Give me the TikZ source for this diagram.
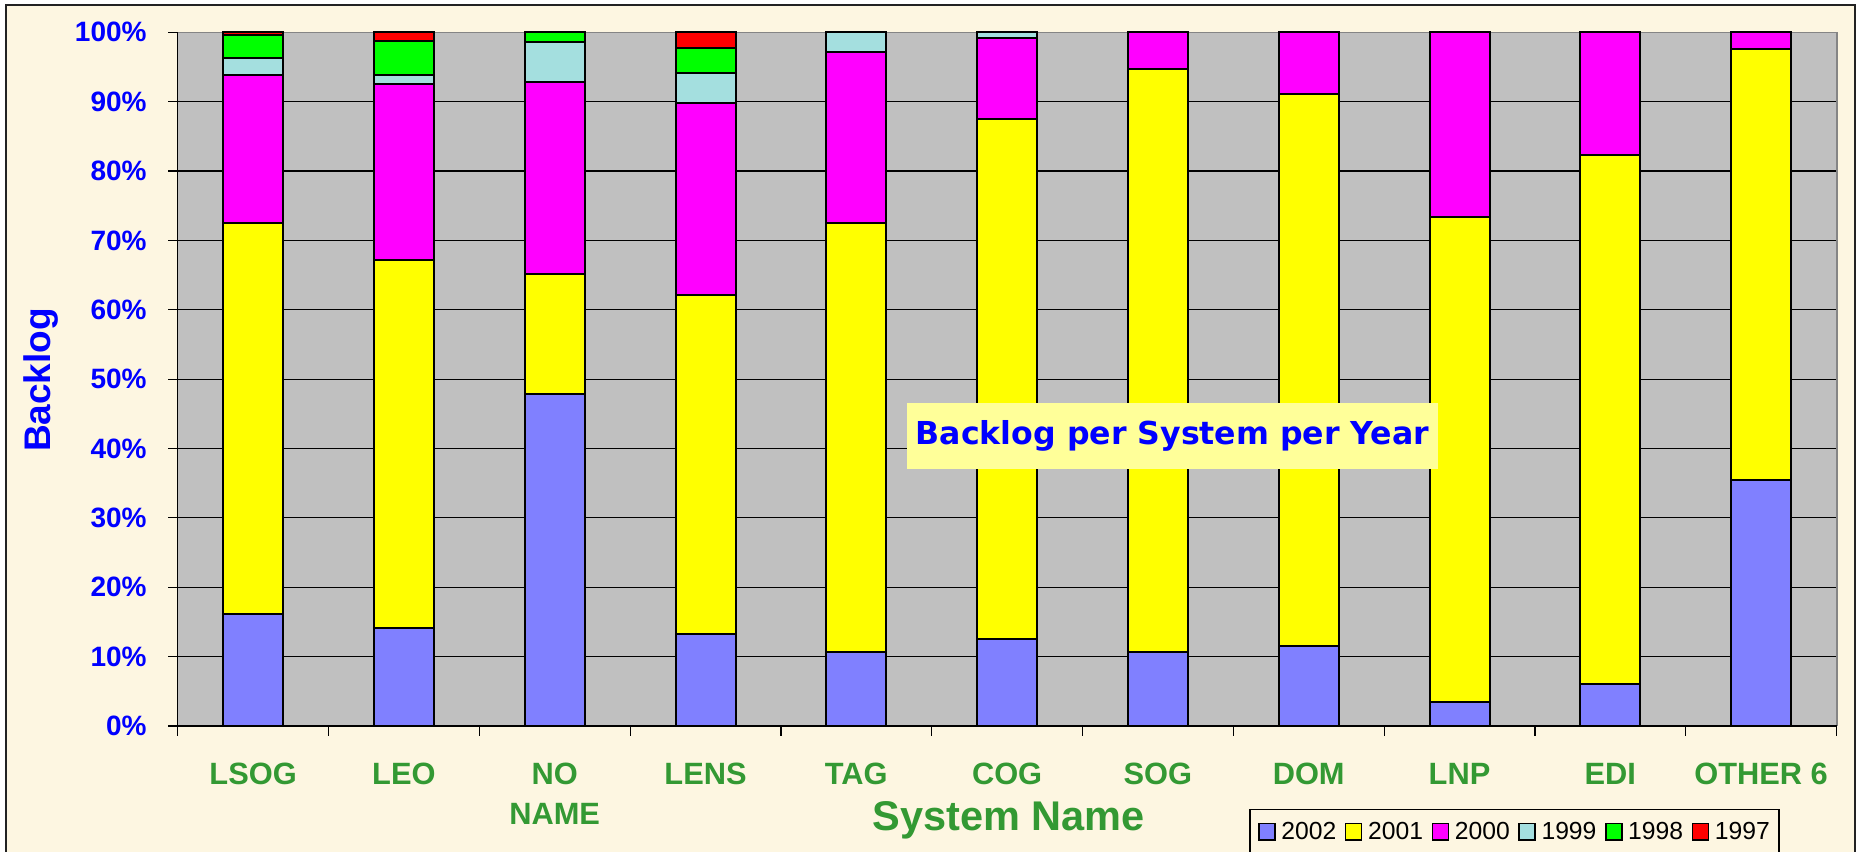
\documentclass[tikz,border=0pt]{standalone}
\usepackage{fontspec}
\setmainfont{Liberation Sans}
\newfontfamily\titlefont{DejaVu Sans}
\definecolor{paper}{HTML}{FDF6E1}
\definecolor{framegray}{HTML}{222222}
\definecolor{plotgray}{HTML}{C0C0C0}
\definecolor{plotedge}{HTML}{858585}
\definecolor{c2002}{HTML}{8080FF}
\definecolor{c2001}{HTML}{FFFF00}
\definecolor{c2000}{HTML}{FF00FF}
\definecolor{c1999}{HTML}{A4DFDF}
\definecolor{c1998}{HTML}{00FF00}
\definecolor{c1997}{HTML}{FF0000}
\definecolor{axisblue}{HTML}{0000FF}
\definecolor{catgreen}{HTML}{339933}
\definecolor{titlefill}{HTML}{FFFF99}

\tikzset{
  gridline/.style={black, line width=0.6pt},
  tickline/.style={black, line width=0.6pt},
  barseg/.style={draw=black, line width=1pt},
  ylabel/.style={anchor=east, inner sep=0pt, text=axisblue,
    font=\bfseries\fontsize{14}{16}\selectfont},
  catlabel/.style={anchor=base, inner sep=0pt, text=catgreen, align=center,
    font=\bfseries\fontsize{15.4}{20}\selectfont},
  axistitle/.style={anchor=base, inner sep=0pt, font=\bfseries},
  legsquare/.style={draw=black, line width=0.7pt},
  legtext/.style={anchor=base west, inner sep=0pt,
    font=\fontsize{12.35}{14}\selectfont},
}

\begin{document}
\begin{tikzpicture}[x=0.5pt, y=-0.5pt]
\useasboundingbox (0,0) rectangle (1857,851);
\begin{scope}
  \clip (0,0) rectangle (1857,851);
  \fill[white] (0,0) rectangle (1857,851);
  % chart frame (runs past the lower edge)
  \draw[fill=paper, draw=framegray, line width=1pt] (6,5) rectangle (1855,880);

  % plot area and gridlines
  \fill[plotgray] (177.7,32.3) rectangle (1836.7,726);
  \foreach \p in {10,20,...,100}
    \draw[gridline] (177.7,{726-6.937*\p}) -- (1836.7,{726-6.937*\p});
  \draw[plotedge, line width=0.8pt] (177.7,32.3) -- (1836.7,32.3) -- (1836.7,726);

  % value axis with ticks and labels
  \draw[tickline] (177.7,32.3) -- (177.7,726) -- (1836.7,726);
  \foreach \p in {0,10,...,100} {
    \draw[tickline] (168,{726-6.937*\p}) -- (177.7,{726-6.937*\p});
    \node[ylabel] (ylab\p) at (147,{726-6.937*\p}) {\p\%};
  }
  % category ticks
  \foreach \k in {0,...,11}
    \draw[tickline] ({177.7+150.8*\k},726) -- ({177.7+150.8*\k},736);

  % stacked bars: index / lower % / upper % / colour
  \foreach \k/\lo/\hi/\col in {
    0/0/16.2/c2002, 0/16.2/72.5/c2001, 0/72.5/93.8/c2000, 0/93.8/96.3/c1999, 0/96.3/99.6/c1998, 0/99.6/100/c1997,
    1/0/14.2/c2002, 1/14.2/67.2/c2001, 1/67.2/92.5/c2000, 1/92.5/93.9/c1999, 1/93.9/98.8/c1998, 1/98.8/100/c1997,
    2/0/47.8/c2002, 2/47.8/65.2/c2001, 2/65.2/92.8/c2000, 2/92.8/98.6/c1999, 2/98.6/100/c1998,
    3/0/13.3/c2002, 3/13.3/62.1/c2001, 3/62.1/89.8/c2000, 3/89.8/94.2/c1999, 3/94.2/97.7/c1998, 3/97.7/100/c1997,
    4/0/10.6/c2002, 4/10.6/72.5/c2001, 4/72.5/97.2/c2000, 4/97.2/100/c1999,
    5/0/12.6/c2002, 5/12.6/87.5/c2001, 5/87.5/99.2/c2000, 5/99.2/100/c1999,
    6/0/10.6/c2002, 6/10.6/94.7/c2001, 6/94.7/100/c2000,
    7/0/11.6/c2002, 7/11.6/91.1/c2001, 7/91.1/100/c2000,
    8/0/3.4/c2002, 8/3.4/73.4/c2001, 8/73.4/100/c2000,
    9/0/6.0/c2002, 9/6.0/82.3/c2001, 9/82.3/100/c2000,
    10/0/35.5/c2002, 10/35.5/97.6/c2001, 10/97.6/100/c2000}
    \draw[barseg, fill=\col] ({177.7+150.8*(\k+0.5)-30},{726-6.937*\lo})
      rectangle ({177.7+150.8*(\k+0.5)+30},{726-6.937*\hi});

  % category names (base = baseline of the last line)
  \foreach \k/\yb/\name/\txt in {0/784/lsog/LSOG, 1/784/leo/LEO, 2/824/noname/{NO\\NAME},
      3/784/lens/LENS, 4/784/tag/TAG, 5/784/cog/COG, 6/784/sog/SOG, 7/784/dom/DOM,
      8/784/lnp/LNP, 9/784/edi/EDI, 10/784/other/OTHER 6}
    \node[catlabel] (cat-\name) at ({177.7+150.8*(\k+0.5)},\yb) {\txt};

  % axis titles
  \node[axistitle, text=catgreen, font=\bfseries\fontsize{20.75}{24}\selectfont]
    (xtitle) at (1008.7,830) {System Name};
  \node[axistitle, text=axisblue, rotate=90, font=\bfseries\fontsize{18.5}{22}\selectfont]
    (ytitle) at (50,380) {Backlog};

  % chart title box
  \node[fill=titlefill, minimum width=265.5pt, minimum height=33pt, inner sep=0pt,
    text=axisblue, font=\titlefont\bfseries\fontsize{15.8}{18}\selectfont]
    (title) at (1172.5,436) {Backlog per System per Year};

  % legend
  \draw[black, line width=0.6pt, fill=paper] (1250,809.3) rectangle (1779,870);
  \foreach \i/\col/\yr in {0/c2002/2002, 1/c2001/2001, 2/c2000/2000,
                           3/c1999/1999, 4/c1998/1998, 5/c1997/1997} {
    \draw[legsquare, fill=\col] ({1259+86.7*\i},823.5) rectangle ({1275+86.7*\i},840);
    \node[legtext] (leg\yr) at ({1281+86.7*\i},839.5) {\yr};
  }
\end{scope}
\end{tikzpicture}
\end{document}
